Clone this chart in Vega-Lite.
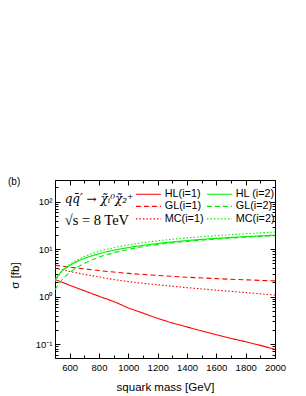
{
  "$schema": "https://vega.github.io/schema/vega-lite/v6.json",
  "autosize": "none",
  "width": 220,
  "height": 178,
  "padding": {"left": 55, "top": 180, "right": 31, "bottom": 38},
  "background": "white",
  "title": {"text": "(b)", "anchor": "start", "frame": "group", "offset": 0, "dx": -47, "dy": 7, "fontSize": 10, "font": "Liberation Sans", "fontWeight": "normal", "color": "black"},
  "config": {
    "view": {"stroke": null},
    "axis": {"grid": false, "labelFont": "Liberation Sans", "labelFontSize": 9.5, "labelColor": "black", "tickColor": "black", "domainColor": "black", "tickWidth": 1, "domainWidth": 1, "titleFont": "Liberation Sans", "titleFontSize": 11.5, "titleFontWeight": "normal", "titleColor": "black", "labelOverlap": false, "labelFlush": false},
    "legend": {"labelFont": "Liberation Sans", "labelFontSize": 10.8, "labelColor": "black"}
  },
  "datasets": {
    "curves": [
      {"m": 500, "s": 2.3, "series": "HL(i=1)", "i": 1},
      {"m": 550, "s": 2.0, "series": "HL(i=1)", "i": 1},
      {"m": 600, "s": 1.74, "series": "HL(i=1)", "i": 1},
      {"m": 650, "s": 1.52, "series": "HL(i=1)", "i": 1},
      {"m": 700, "s": 1.33, "series": "HL(i=1)", "i": 1},
      {"m": 800, "s": 1.02, "series": "HL(i=1)", "i": 1},
      {"m": 900, "s": 0.79, "series": "HL(i=1)", "i": 1},
      {"m": 1000, "s": 0.58, "series": "HL(i=1)", "i": 1},
      {"m": 1100, "s": 0.45, "series": "HL(i=1)", "i": 1},
      {"m": 1200, "s": 0.35, "series": "HL(i=1)", "i": 1},
      {"m": 1300, "s": 0.28, "series": "HL(i=1)", "i": 1},
      {"m": 1400, "s": 0.23, "series": "HL(i=1)", "i": 1},
      {"m": 1500, "s": 0.19, "series": "HL(i=1)", "i": 1},
      {"m": 1600, "s": 0.158, "series": "HL(i=1)", "i": 1},
      {"m": 1700, "s": 0.132, "series": "HL(i=1)", "i": 1},
      {"m": 1800, "s": 0.112, "series": "HL(i=1)", "i": 1},
      {"m": 1900, "s": 0.094, "series": "HL(i=1)", "i": 1},
      {"m": 2000, "s": 0.078, "series": "HL(i=1)", "i": 1},
      {"m": 500, "s": 4.6, "series": "GL(i=1)", "i": 1},
      {"m": 600, "s": 4.2, "series": "GL(i=1)", "i": 1},
      {"m": 700, "s": 3.85, "series": "GL(i=1)", "i": 1},
      {"m": 800, "s": 3.55, "series": "GL(i=1)", "i": 1},
      {"m": 900, "s": 3.3, "series": "GL(i=1)", "i": 1},
      {"m": 1000, "s": 3.1, "series": "GL(i=1)", "i": 1},
      {"m": 1200, "s": 2.8, "series": "GL(i=1)", "i": 1},
      {"m": 1400, "s": 2.57, "series": "GL(i=1)", "i": 1},
      {"m": 1600, "s": 2.4, "series": "GL(i=1)", "i": 1},
      {"m": 1800, "s": 2.26, "series": "GL(i=1)", "i": 1},
      {"m": 2000, "s": 2.15, "series": "GL(i=1)", "i": 1},
      {"m": 500, "s": 4.0, "series": "MC(i=1)", "i": 1},
      {"m": 600, "s": 3.4, "series": "MC(i=1)", "i": 1},
      {"m": 700, "s": 2.95, "series": "MC(i=1)", "i": 1},
      {"m": 800, "s": 2.6, "series": "MC(i=1)", "i": 1},
      {"m": 900, "s": 2.3, "series": "MC(i=1)", "i": 1},
      {"m": 1000, "s": 2.08, "series": "MC(i=1)", "i": 1},
      {"m": 1200, "s": 1.78, "series": "MC(i=1)", "i": 1},
      {"m": 1400, "s": 1.55, "series": "MC(i=1)", "i": 1},
      {"m": 1600, "s": 1.37, "series": "MC(i=1)", "i": 1},
      {"m": 1800, "s": 1.22, "series": "MC(i=1)", "i": 1},
      {"m": 2000, "s": 1.08, "series": "MC(i=1)", "i": 1},
      {"m": 500, "s": 2.3, "series": "HL (i=2)", "i": 2},
      {"m": 550, "s": 3.5, "series": "HL (i=2)", "i": 2},
      {"m": 600, "s": 4.5, "series": "HL (i=2)", "i": 2},
      {"m": 650, "s": 5.5, "series": "HL (i=2)", "i": 2},
      {"m": 700, "s": 6.4, "series": "HL (i=2)", "i": 2},
      {"m": 800, "s": 8.0, "series": "HL (i=2)", "i": 2},
      {"m": 900, "s": 9.5, "series": "HL (i=2)", "i": 2},
      {"m": 1000, "s": 10.8, "series": "HL (i=2)", "i": 2},
      {"m": 1200, "s": 13.2, "series": "HL (i=2)", "i": 2},
      {"m": 1400, "s": 15.2, "series": "HL (i=2)", "i": 2},
      {"m": 1600, "s": 16.9, "series": "HL (i=2)", "i": 2},
      {"m": 1800, "s": 18.4, "series": "HL (i=2)", "i": 2},
      {"m": 2000, "s": 19.8, "series": "HL (i=2)", "i": 2},
      {"m": 500, "s": 1.4, "series": "GL(i=2)", "i": 2},
      {"m": 550, "s": 2.3, "series": "GL(i=2)", "i": 2},
      {"m": 600, "s": 3.2, "series": "GL(i=2)", "i": 2},
      {"m": 650, "s": 4.1, "series": "GL(i=2)", "i": 2},
      {"m": 700, "s": 5.0, "series": "GL(i=2)", "i": 2},
      {"m": 800, "s": 6.8, "series": "GL(i=2)", "i": 2},
      {"m": 900, "s": 8.4, "series": "GL(i=2)", "i": 2},
      {"m": 1000, "s": 9.9, "series": "GL(i=2)", "i": 2},
      {"m": 1200, "s": 12.5, "series": "GL(i=2)", "i": 2},
      {"m": 1400, "s": 14.6, "series": "GL(i=2)", "i": 2},
      {"m": 1600, "s": 16.4, "series": "GL(i=2)", "i": 2},
      {"m": 1800, "s": 17.9, "series": "GL(i=2)", "i": 2},
      {"m": 2000, "s": 19.2, "series": "GL(i=2)", "i": 2},
      {"m": 500, "s": 2.1, "series": "MC(i=2)", "i": 2},
      {"m": 550, "s": 3.5, "series": "MC(i=2)", "i": 2},
      {"m": 600, "s": 4.8, "series": "MC(i=2)", "i": 2},
      {"m": 650, "s": 5.9, "series": "MC(i=2)", "i": 2},
      {"m": 700, "s": 7.0, "series": "MC(i=2)", "i": 2},
      {"m": 800, "s": 9.0, "series": "MC(i=2)", "i": 2},
      {"m": 900, "s": 10.7, "series": "MC(i=2)", "i": 2},
      {"m": 1000, "s": 12.3, "series": "MC(i=2)", "i": 2},
      {"m": 1200, "s": 15.0, "series": "MC(i=2)", "i": 2},
      {"m": 1400, "s": 17.3, "series": "MC(i=2)", "i": 2},
      {"m": 1600, "s": 19.3, "series": "MC(i=2)", "i": 2},
      {"m": 1800, "s": 21.2, "series": "MC(i=2)", "i": 2},
      {"m": 2000, "s": 23.0, "series": "MC(i=2)", "i": 2}
    ]
  },
  "layer": [
    {
      "data": {"name": "curves"},
      "transform": [{"filter": "datum.i == 1"}],
      "mark": {"type": "line", "strokeWidth": 1.1, "interpolate": "monotone", "clip": true},
      "encoding": {
        "x": {"field": "m", "type": "quantitative", "scale": {"domain": [500, 2000], "nice": false, "zero": false},
          "axis": {"orient": "bottom", "values": [600, 800, 1000, 1200, 1400, 1600, 1800, 2000], "format": "d", "tickSize": -5, "labelPadding": 9, "title": "squark mass [GeV]", "titlePadding": 10}},
        "y": {"field": "s", "type": "quantitative", "scale": {"type": "log", "domain": [0.051, 287], "nice": false},
          "axis": {"orient": "left", "values": [0.1, 1, 10, 100], "tickSize": -5, "labelPadding": 8, "labelExpr": "datum.value == 100 ? '10²' : datum.value == 10 ? '10¹' : datum.value == 1 ? '10⁰' : '10⁻¹'", "title": "σ [fb]", "titlePadding": 15, "titleY": 95}},
        "color": {"field": "series", "type": "nominal",
          "scale": {"domain": ["HL(i=1)", "HL (i=2)", "GL(i=1)", "GL(i=2)", "MC(i=1)", "MC(i=2)"], "range": ["#ff0000", "#00ee00", "#ff0000", "#00ee00", "#ff0000", "#00ee00"]},
          "legend": {"title": null, "orient": "none", "legendX": 88, "legendY": 8.5, "columns": 2, "direction": "horizontal", "symbolType": "M-4,0H4", "symbolSize": 39, "symbolStrokeWidth": 1.1, "columnPadding": 0, "rowPadding": 0.5, "labelOffset": 11,
            "encode": {"symbols": {"update": {"stroke": {"scale": "color", "field": "value"}, "strokeDash": {"scale": "strokeDash", "field": "value"}, "opacity": {"value": 1}}}}}},
        "strokeDash": {"field": "series", "type": "nominal",
          "scale": {"domain": ["HL(i=1)", "HL (i=2)", "GL(i=1)", "GL(i=2)", "MC(i=1)", "MC(i=2)"], "range": [[1, 0], [1, 0], [5, 3], [5, 3], [1.5, 2], [1.5, 2]]},
          "legend": null}
      }
    },
    {
      "data": {"name": "curves"},
      "transform": [{"filter": "datum.i == 2"}],
      "mark": {"type": "line", "strokeWidth": 1.1, "interpolate": "monotone", "clip": true},
      "encoding": {
        "x": {"field": "m", "type": "quantitative",
          "axis": {"orient": "top", "values": [600, 800, 1000, 1200, 1400, 1600, 1800, 2000], "tickSize": -5, "labels": false, "title": null}},
        "y": {"field": "s", "type": "quantitative",
          "axis": {"orient": "right", "values": [0.1, 1, 10, 100], "tickSize": -5, "labels": false, "title": null}},
        "color": {"field": "series", "type": "nominal"},
        "strokeDash": {"field": "series", "type": "nominal", "legend": null}
      }
    },
    {
      "data": {"values": [{"m": 566, "s": 116, "label": "qq̄′ → χ̃ᵢ⁰χ̃₂⁺"}]},
      "mark": {"type": "text", "align": "left", "baseline": "middle", "font": "DejaVu Serif", "fontStyle": "italic", "fontSize": 12, "color": "black"},
      "encoding": {
        "x": {"field": "m", "type": "quantitative",
          "axis": {"orient": "bottom", "values": [500, 700, 900, 1100, 1300, 1500, 1700, 1900], "tickSize": -3, "labels": false, "domain": false, "title": null}},
        "y": {"field": "s", "type": "quantitative",
          "axis": {"orient": "left", "values": [0.06, 0.07, 0.08, 0.09, 0.2, 0.3, 0.4, 0.5, 0.6, 0.7, 0.8, 0.9, 2, 3, 4, 5, 6, 7, 8, 9, 20, 30, 40, 50, 60, 70, 80, 90, 200], "tickSize": -3, "labels": false, "domain": false, "title": null}},
        "text": {"field": "label"}
      }
    },
    {
      "data": {"values": [{"m": 566, "s": 40, "label": "√s = 8 TeV"}]},
      "mark": {"type": "text", "align": "left", "baseline": "middle", "font": "Liberation Serif", "fontSize": 14.5, "color": "black"},
      "encoding": {
        "x": {"field": "m", "type": "quantitative",
          "axis": {"orient": "top", "values": [500, 700, 900, 1100, 1300, 1500, 1700, 1900], "tickSize": -3, "labels": false, "domain": false, "title": null}},
        "y": {"field": "s", "type": "quantitative",
          "axis": {"orient": "right", "values": [0.06, 0.07, 0.08, 0.09, 0.2, 0.3, 0.4, 0.5, 0.6, 0.7, 0.8, 0.9, 2, 3, 4, 5, 6, 7, 8, 9, 20, 30, 40, 50, 60, 70, 80, 90, 200], "tickSize": -3, "labels": false, "domain": false, "title": null}},
        "text": {"field": "label"}
      }
    }
  ],
  "resolve": {"axis": {"x": "independent", "y": "independent"}}
}
